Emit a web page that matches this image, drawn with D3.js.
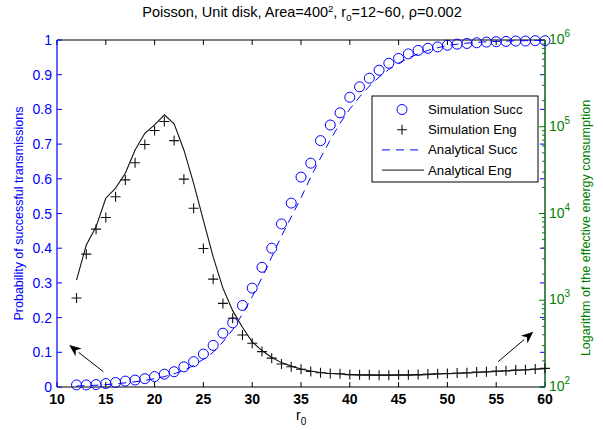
<!DOCTYPE html>
<html>
<head>
<meta charset="utf-8">
<script src="https://cdn.jsdelivr.net/npm/d3@7"></script>
<style>
  body { margin: 0; background: #fff; }
  svg { font-family: "Liberation Sans", Arial, Helvetica, sans-serif; }
</style>
</head>
<body>
<svg id="chart" width="603" height="430"></svg>
<script>
'use strict'

// r0 values (x axis)
let r0 = [12, 13, 14, 15, 16, 17, 18, 19, 20, 21, 22, 23, 24, 25, 26, 27, 28, 29, 30,
          31, 32, 33, 34, 35, 36, 37, 38, 39, 40, 41, 42, 43, 44, 45, 46, 47, 48, 49, 50,
          51, 52, 53, 54, 55, 56, 57, 58, 59, 60]

// probability of successful transmissions (left axis)
let sim_succ = [0.006, 0.006, 0.007, 0.010, 0.013, 0.017, 0.020, 0.024, 0.030, 0.037,
                0.044, 0.058, 0.073, 0.095, 0.120, 0.155, 0.185, 0.235, 0.285, 0.345,
                0.400, 0.470, 0.530, 0.605, 0.645, 0.710, 0.755, 0.790, 0.835, 0.865,
                0.890, 0.913, 0.933, 0.947, 0.960, 0.970, 0.976, 0.980, 0.985, 0.988,
                0.990, 0.992, 0.994, 0.995, 0.996, 0.997, 0.997, 0.998, 0.998]
let ana_succ = [0.003, 0.004, 0.005, 0.007, 0.009, 0.012, 0.015, 0.019, 0.024, 0.030,
                0.038, 0.048, 0.062, 0.080, 0.100, 0.130, 0.165, 0.210, 0.260, 0.315,
                0.375, 0.435, 0.490, 0.545, 0.605, 0.660, 0.712, 0.760, 0.801, 0.836,
                0.867, 0.893, 0.915, 0.933, 0.948, 0.960, 0.970, 0.978, 0.984, 0.988,
                0.991, 0.993, 0.995, 0.996, 0.997, 0.998, 0.998, 0.999, 0.999]

// effective energy consumption (right axis, log)
let sim_eng = [1060, 3400, 6600, 9000, 15600, 24400, 38400, 62500, 90400, 115000,
               69200, 24900, 11500, 3950, 1750, 920, 619, 398, 319, 256,
               215, 184, 171, 160, 151, 146, 143, 142, 139, 138,
               138, 137, 137, 138, 138, 139, 141, 142, 143, 145,
               146, 149, 150, 153, 154, 157, 158, 161, 164]
let ana_eng = [1710, 4330, 7050, 15000, 19600, 29100, 54000, 84000, 105000, 137000,
               108000, 54000, 22300, 8320, 3160, 1380, 759, 488, 331, 263,
               219, 191, 174, 161, 153, 147, 143, 141, 139, 138,
               137, 137, 137, 137, 137, 138, 139, 141, 142, 143,
               145, 147, 149, 151, 153, 156, 157, 160, 163]

let x_ticks = [10, 15, 20, 25, 30, 35, 40, 45, 50, 55, 60]
let left_ticks = [0, 0.1, 0.2, 0.3, 0.4, 0.5, 0.6, 0.7, 0.8, 0.9, 1]
let right_exps = [2, 3, 4, 5, 6]

// annotation arrows in data units [from r0, from p, to r0, to p]
let arrows = [[14.75, 0.044, 11.25, 0.121], [55.2, 0.073, 58.8, 0.159]]

let legend_items = ['Simulation Succ', 'Simulation Eng', 'Analytical Succ', 'Analytical Eng']

let BLUE = '#0000ff'
let GREEN = '#008000'

let svg = d3.select('#chart')
let plot = {left: 57, right: 545, top: 40, bottom: 387}

let xScale = d3.scaleLinear().domain([10, 60]).range([plot.left, plot.right])
let yLeft = d3.scaleLinear().domain([0, 1]).range([plot.bottom, plot.top])
let yRight = d3.scaleLog().domain([100, 1e6]).range([plot.bottom, plot.top])

// frame: top and bottom black
svg.append('line').attr('x1', plot.left).attr('x2', plot.right).attr('y1', plot.top).attr('y2', plot.top)
  .attr('stroke', '#000').attr('stroke-width', 1)
svg.append('line').attr('x1', plot.left).attr('x2', plot.right).attr('y1', plot.bottom).attr('y2', plot.bottom)
  .attr('stroke', '#000').attr('stroke-width', 1.2)

// x ticks (bottom + top, inward)
x_ticks.forEach(function(t){
  let x = xScale(t)
  svg.append('line').attr('x1', x).attr('x2', x).attr('y1', plot.bottom).attr('y2', plot.bottom - 5).attr('stroke', '#000')
  svg.append('line').attr('x1', x).attr('x2', x).attr('y1', plot.top).attr('y2', plot.top + 5).attr('stroke', '#000')
  svg.append('text').text(t).attr('x', x).attr('y', 404)
    .attr('text-anchor', 'middle').attr('font-size', 14).attr('font-weight', 'bold').attr('fill', '#000')
})

// left axis (blue), ticks mirrored at right side
left_ticks.forEach(function(t){
  let y = yLeft(t)
  svg.append('line').attr('x1', plot.left).attr('x2', plot.left + 5).attr('y1', y).attr('y2', y).attr('stroke', BLUE)
  svg.append('line').attr('x1', plot.right).attr('x2', plot.right - 5).attr('y1', y).attr('y2', y).attr('stroke', BLUE)
  svg.append('text').text(t).attr('x', plot.left - 5).attr('y', y + 5)
    .attr('text-anchor', 'end').attr('font-size', 14).attr('fill', BLUE)
})
svg.append('line').attr('x1', plot.left).attr('x2', plot.left).attr('y1', plot.top).attr('y2', plot.bottom)
  .attr('stroke', BLUE).attr('stroke-width', 1.2)

// right log axis (green)
let minor = []
for (let e = 2; e < 6; e++){
  for (let m = 2; m < 10; m++) minor.push(m * Math.pow(10, e))
}
minor.forEach(function(v){
  let y = yRight(v)
  svg.append('line').attr('x1', plot.right).attr('x2', plot.right - 3).attr('y1', y).attr('y2', y).attr('stroke', GREEN)
})
right_exps.forEach(function(e){
  let y = yRight(Math.pow(10, e))
  svg.append('line').attr('x1', plot.right).attr('x2', plot.right - 6).attr('y1', y).attr('y2', y).attr('stroke', GREEN)
  let t = svg.append('text').attr('x', plot.right + 4).attr('y', y + 4).attr('font-size', 14).attr('fill', GREEN)
  t.append('tspan').text('10')
  t.append('tspan').text(e).attr('font-size', 10).attr('dy', -7)
})
svg.append('line').attr('x1', plot.right).attr('x2', plot.right).attr('y1', plot.top).attr('y2', plot.bottom)
  .attr('stroke', '#1b6b2c').attr('stroke-width', 1.6)

// axis labels
svg.append('text').text('Probability of successful transmissions')
  .attr('transform', 'translate(23,' + ((plot.top + plot.bottom) / 2) + ') rotate(-90)')
  .attr('text-anchor', 'middle').attr('font-size', 12.5).attr('fill', BLUE)
svg.append('text').text('Logarithm of the effective energy consumption')
  .attr('transform', 'translate(590,228) rotate(-90)')
  .attr('text-anchor', 'middle').attr('font-size', 12.5).attr('fill', GREEN)

let xl = svg.append('text').attr('x', 296).attr('y', 420).attr('font-size', 14).attr('fill', '#000')
xl.append('tspan').text('r')
xl.append('tspan').text('0').attr('font-size', 10).attr('dy', 5)

// title
let title = svg.append('text').attr('x', 302).attr('y', 17).attr('text-anchor', 'middle')
  .attr('font-size', 14.5).attr('fill', '#000')
title.append('tspan').text('Poisson, Unit disk, Area=400')
title.append('tspan').text('2').attr('font-size', 9.5).attr('dy', -5)
title.append('tspan').text(', r').attr('dy', 5)
title.append('tspan').text('0').attr('font-size', 9.5).attr('dy', 4)
title.append('tspan').text('=12~60, \u03c1=0.002').attr('dy', -4)

// lines
let succLine = d3.line().x(function(d, i){ return xScale(r0[i]) }).y(function(d){ return yLeft(d) })
let engLine = d3.line().x(function(d, i){ return xScale(r0[i]) }).y(function(d){ return yRight(d) })

svg.append('path').attr('d', succLine(ana_succ)).attr('fill', 'none')
  .attr('stroke', BLUE).attr('stroke-width', 1).attr('stroke-dasharray', '8,6')
svg.append('path').attr('d', engLine(ana_eng)).attr('fill', 'none')
  .attr('stroke', '#111').attr('stroke-width', 1.1)

// simulation markers
svg.selectAll('.succ').data(sim_succ).enter().append('circle')
  .attr('class', 'succ')
  .attr('cx', function(d, i){ return xScale(r0[i]) })
  .attr('cy', function(d){ return yLeft(d) })
  .attr('r', 5).attr('fill', 'none').attr('stroke', BLUE).attr('stroke-width', 1)

function cross(g, x, y, s){
  g.append('path').attr('d', 'M' + (x - s) + ',' + y + 'H' + (x + s) + 'M' + x + ',' + (y - s) + 'V' + (y + s))
    .attr('stroke', '#111').attr('stroke-width', 1.1).attr('fill', 'none')
}
let eng_g = svg.append('g')
sim_eng.forEach(function(d, i){
  cross(eng_g, xScale(r0[i]), yRight(d), 5)
})

// arrows
arrows.forEach(function(a){
  let x1 = xScale(a[0]), y1 = yLeft(a[1]), x2 = xScale(a[2]), y2 = yLeft(a[3])
  let ang = Math.atan2(y2 - y1, x2 - x1)
  let len = 12, wid = 5
  let bx = x2 - len * Math.cos(ang), by = y2 - len * Math.sin(ang)
  svg.append('line').attr('x1', x1).attr('y1', y1).attr('x2', bx).attr('y2', by).attr('stroke', '#000').attr('stroke-width', 1)
  let p1 = [bx + wid * Math.sin(ang), by - wid * Math.cos(ang)]
  let p2 = [bx - wid * Math.sin(ang), by + wid * Math.cos(ang)]
  let notch = [x2 - 0.7 * len * Math.cos(ang), y2 - 0.7 * len * Math.sin(ang)]
  svg.append('path').attr('d', 'M' + x2 + ',' + y2 + 'L' + p1 + 'L' + notch + 'L' + p2 + 'Z').attr('fill', '#000')
})

// legend
let leg = {x: 372, y: 96, w: 166, h: 86}
svg.append('rect').attr('x', leg.x).attr('y', leg.y).attr('width', leg.w).attr('height', leg.h)
  .attr('fill', '#fff').attr('stroke', '#000').attr('stroke-width', 1)
legend_items.forEach(function(name, i){
  let y = leg.y + 13.5 + i * 20.2
  if (i == 0){
    svg.append('circle').attr('cx', 402).attr('cy', y).attr('r', 5).attr('fill', 'none').attr('stroke', BLUE)
  } else if (i == 1){
    cross(svg, 402, y, 5)
  } else if (i == 2){
    svg.append('line').attr('x1', 382).attr('x2', 424).attr('y1', y).attr('y2', y)
      .attr('stroke', BLUE).attr('stroke-dasharray', '8,6')
  } else {
    svg.append('line').attr('x1', 382).attr('x2', 424).attr('y1', y).attr('y2', y).attr('stroke', '#111')
  }
  svg.append('text').text(name).attr('x', 428).attr('y', y + 4.5).attr('font-size', 13.2).attr('fill', '#000')
})
</script>
</body>
</html>
